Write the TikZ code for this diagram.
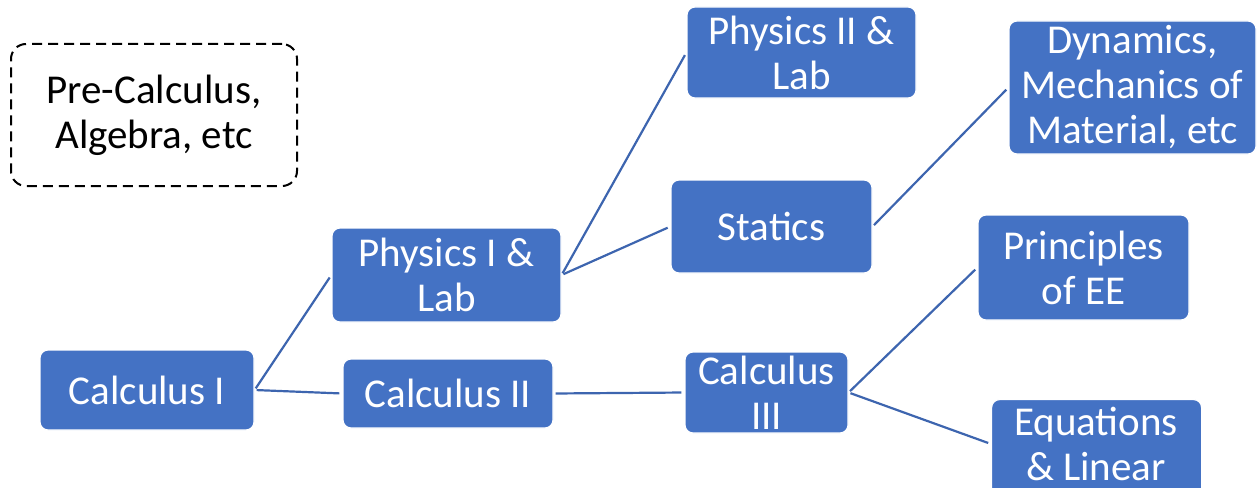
\documentclass[tikz,border=0pt]{standalone}
\usepackage{fontspec}
\setmainfont{Carlito}
\definecolor{boxblue}{HTML}{4472C4}
\definecolor{lineblue}{RGB}{61,101,175}
\tikzset{
  box/.style={draw=white, line width=1.2pt, fill=boxblue, rounded corners=8pt,
    text=white, align=center, inner sep=0pt,
    font=\fontsize{41}{45}\selectfont},
  txt/.style={text=white, align=center, inner sep=0pt,
    font=\fontsize{41}{45}\selectfont},
  dashbox/.style={draw=black, line width=2pt, dash pattern=on 10pt off 6pt,
    rounded corners=15pt, align=center, inner sep=0pt,
    font=\fontsize{41}{45}\selectfont},
  link/.style={draw=lineblue, line width=2.2pt, shorten <=2pt, shorten >=3pt}
}
\begin{document}
\begin{tikzpicture}[x=1pt,y=1pt]
\useasboundingbox (0,0) rectangle (1257,-487);
\clip (0,0) rectangle (1257,-487);
\node[dashbox, minimum width=286, minimum height=142] (pre) at (154,-115) {Pre-Calculus,\\Algebra, etc};
\node[box, minimum width=214, minimum height=80] (calc1) at (147,-390) {Calculus I};
\node[box, minimum width=229, minimum height=94] (phys1) at (446.5,-275) {Physics I \&\\Lab};
\node[box, minimum width=210, minimum height=69] (calc2) at (448,-393.5) {Calculus II};
\node[box, minimum width=229, minimum height=91] (phys2) at (801.5,-52.5) {Physics II \&\\Lab};
\node[box, minimum width=201, minimum height=93] (statics) at (771.5,-226.5) {Statics};
\node[box, minimum width=247, minimum height=133] (dyn) at (1132.5,-87.5) {Dynamics,\\Mechanics of\\Material, etc};
\node[box, minimum width=163, minimum height=81] (calc3) at (766.5,-392.5) {Calculus\\III};
\node[box, minimum width=211, minimum height=105] (ee) at (1083.5,-267.5) {Principles\\of EE};
\node[box, minimum width=210, minimum height=130, anchor=north west] (eq) at (991,-399) {};
\node[txt] (eqt) at (1096,-444) {Equations\\\& Linear};
\draw[link] (calc1.east) -- (phys1.west);
\draw[link] (calc1.east) -- (calc2.west);
\draw[link] (phys1.east) -- (phys2.west);
\draw[link] (phys1.east) -- (statics.west);
\draw[link] (statics.east) -- (dyn.west);
\draw[link] (calc2.east) -- (calc3.west);
\draw[link] (calc3.east) -- (ee.west);
\draw[link] (calc3.east) -- (eq.west |- eqt.center);
\end{tikzpicture}
\end{document}
